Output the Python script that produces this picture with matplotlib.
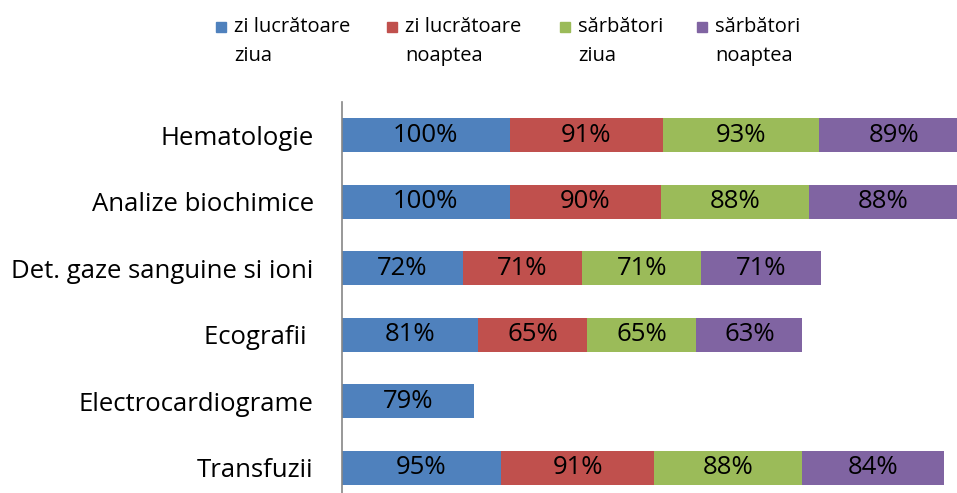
import numpy as np
import matplotlib.pyplot as plt
from matplotlib.patches import Rectangle

plt.rcParams['font.family'] = ['Open Sans', 'DejaVu Sans']

# categories, top to bottom
categorii = ['Hematologie', 'Analize biochimice', 'Det. gaze sanguine si ioni',
             'Ecografii ', 'Electrocardiograme', 'Transfuzii']
serii = ['zi lucrătoare\nziua', 'zi lucrătoare\nnoaptea', 'sărbători\nziua', 'sărbători\nnoaptea']
culori = ['#4F81BD', '#C0504D', '#9BBB59', '#8064A2']

zi_ziua = [100, 100, 72, 81, 79, 95]
zi_noaptea = [91, 90, 71, 65, 0, 91]
sarb_ziua = [93, 88, 71, 65, 0, 88]
sarb_noaptea = [89, 88, 71, 63, 0, 84]
valori = [zi_ziua, zi_noaptea, sarb_ziua, sarb_noaptea]

W, H = 957, 493
fig = plt.figure(figsize=(W / 100, H / 100), dpi=100)
ax = fig.add_axes([0.357, -0.016, 0.643, 0.809])

y = np.arange(len(categorii))
stanga = np.zeros(len(categorii))
for i in range(4):
    v = np.array(valori[i], dtype=float)
    ax.barh(y, v, left=stanga, height=0.51, color=culori[i], label=serii[i])
    for j in range(len(categorii)):
        if v[j] > 0:
            ax.text(stanga[j] + v[j] / 2, y[j], '%d%%' % v[j], ha='center', va='center',
                    fontsize=18.5, color='black')
    stanga = stanga + v

ax.set_ylim(len(categorii) - 0.5, -0.5)
ax.set_xlim(0, 366)
ax.set_yticks(y)
ax.set_yticklabels(categorii, fontsize=18.5)
ax.tick_params(axis='y', length=0, pad=20)
ax.set_xticks([])
for s in ['top', 'right', 'bottom']:
    ax.spines[s].set_visible(False)
ax.spines['left'].set_color('#868686')
ax.spines['left'].set_linewidth(1.2)

# legenda facuta de mana (patrat aliniat cu primul rand)
leg_x = [216, 387, 560, 697]
for i in range(4):
    fig.patches.append(Rectangle((leg_x[i] / W, 1 - 32 / H), 10 / W, 10 / H,
                                 transform=fig.transFigure, color=culori[i]))
    rand1, rand2 = serii[i].split('\n')
    fig.text((leg_x[i] + 18) / W, 1 - 32 / H, rand1, fontsize=14.5, ha='left',
             va='baseline', color='black')
    fig.text((leg_x[i] + 18) / W, 1 - 61 / H, rand2, fontsize=14.5, ha='left',
             va='baseline', color='black')

fig.savefig('out.png', dpi=100)
